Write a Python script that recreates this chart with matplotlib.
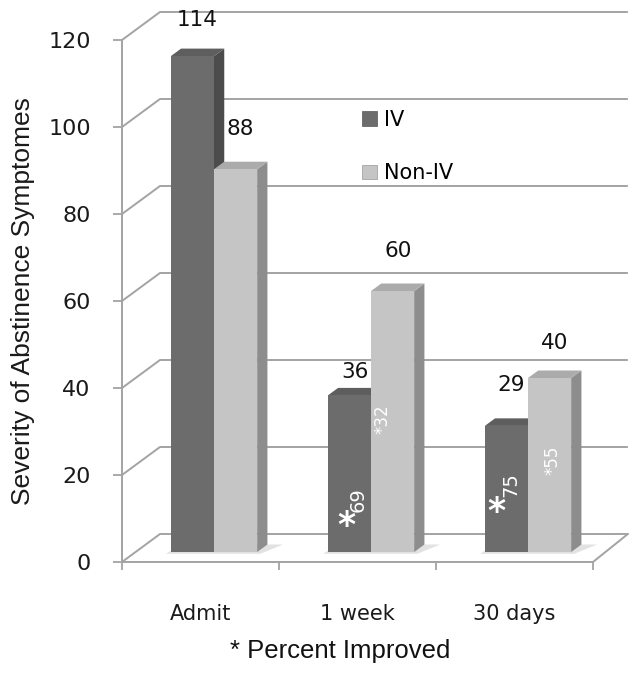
import matplotlib
matplotlib.use('Agg')
import matplotlib.pyplot as plt
from matplotlib.patches import Polygon, Patch
import numpy as np

# ---------------- data ----------------
categories = ['Admit', '1 week', '30 days']
series_names = ['IV', 'Non-IV']
iv_values = [114, 36, 29]
noniv_values = [88, 60, 40]
iv_improved = [None, 69, 75]        # percent improved (IV)
noniv_improved = [None, 32, 55]     # percent improved (Non-IV)
y_ticks = [0, 20, 40, 60, 80, 100, 120]
ylabel = 'Severity of Abstinence Symptomes'
footnote = '* Percent Improved'

# ---------------- styling ----------------
W, H, DPI = 641, 674, 100
GRID = '#a3a3a3'
iv_colors = dict(face='#6c6c6c', side='#4c4c4c', top='#5e5e5e')
non_colors = dict(face='#c5c5c5', side='#8d8d8d', top='#ababab')
label_off_px = [[36, 23, 41], [40, 40, 35]]          # value label offsets above bar tops
iv_star_off = [None, (19, 26), (12, 40)]               # big star offset (px from base-left)
iv_num_off = [None, (30, 52), (26, 67)]
non_txt_off = [None, (11, 133), (24, 92)]

fig = plt.figure(figsize=(W / DPI, H / DPI), dpi=DPI)
fig.patch.set_facecolor('white')
ax = fig.add_axes([122 / W, 112 / H, 471 / W, 522 / H])
ax.set_xlim(-0.5, 2.5)
ax.set_ylim(0, 120)
ax.set_facecolor('none')

ppx = 471 / 3      # px per category
ppy = 522 / 120    # px per value unit
PT = 72 / DPI      # points per px
DX = 38 / ppx
DY = 28 / ppy

# back wall grid + slanted side lines
for v in y_ticks:
    ax.plot([-0.5, -0.5 + DX, 2.5 + DX - 0.02], [v, v + DY, v + DY], color=GRID, lw=1.4,
            clip_on=False, zorder=1, solid_capstyle='butt')
# floor right edge
ax.plot([2.5, 2.5 + DX - 0.02], [0, DY], color=GRID, lw=1.4, clip_on=False, zorder=1)

# bars
w = 0.275
f0, fb = 0.355, 0.27
sx, sy = f0 * DX, f0 * DY
bx, by = fb * DX, fb * DY
x = np.arange(len(categories))

# floor shadows
for c in x:
    xl = c - w + sx
    xr = c + w + sx
    shadow = Polygon([(xl - 0.03, sy - 0.4), (xr + 0.02, sy - 0.4), (xr + bx + 0.10, sy + by),
                      (xl + bx, sy + by)], closed=True, facecolor='#e2e2e2', edgecolor='none',
                     clip_on=False, zorder=1.5)
    ax.add_patch(shadow)

series = [(iv_values, iv_colors), (noniv_values, non_colors)]
for i, (vals, col) in enumerate(series):
    z = 3 + 2 * i
    lefts = x - w + i * w + sx
    ax.bar(lefts, vals, width=w, bottom=sy, align='edge', color=col['face'],
           edgecolor='none', clip_on=False, zorder=z + 1)
    for xl, v in zip(lefts, vals):
        xr = xl + w
        top = v + sy
        side = Polygon([(xr, sy), (xr, top), (xr + bx, top + by), (xr + bx, sy + by)],
                       closed=True, facecolor=col['side'], edgecolor='none', clip_on=False, zorder=z)
        cap = Polygon([(xl, top), (xr, top), (xr + bx, top + by), (xl + bx, top + by)],
                      closed=True, facecolor=col['top'], edgecolor='none', clip_on=False, zorder=z)
        ax.add_patch(side)
        ax.add_patch(cap)
    for j, (xl, v) in enumerate(zip(lefts, vals)):
        ax.annotate(str(v), xy=(xl + w / 2 + bx / 2, v + sy), xytext=(0, label_off_px[i][j] * PT),
                    textcoords='offset points', ha='center', va='center', fontsize=15.5,
                    color='#111111', annotation_clip=False, zorder=10)

# percent improved annotations inside bars
iv_lefts = x - w + sx
non_lefts = x + sx
for j in range(len(categories)):
    if iv_improved[j] is not None:
        ox, oy = iv_star_off[j]
        ax.annotate('*', xy=(iv_lefts[j], sy), xytext=(ox * PT, oy * PT), textcoords='offset points',
                    ha='center', va='center', fontsize=25, fontweight='bold', color='white',
                    annotation_clip=False, zorder=10)
        ox, oy = iv_num_off[j]
        ax.annotate(str(iv_improved[j]), xy=(iv_lefts[j], sy), xytext=(ox * PT, oy * PT),
                    textcoords='offset points', ha='center', va='center', rotation=90,
                    fontsize=14, color='white', annotation_clip=False, zorder=10)
    if noniv_improved[j] is not None:
        ox, oy = non_txt_off[j]
        ax.annotate('*' + str(noniv_improved[j]), xy=(non_lefts[j], sy), xytext=(ox * PT, oy * PT),
                    textcoords='offset points', ha='center', va='center', rotation=90,
                    fontsize=12, color='white', annotation_clip=False, zorder=10)

# axes styling
for s in ['top', 'right']:
    ax.spines[s].set_visible(False)
for s in ['left', 'bottom']:
    ax.spines[s].set_color(GRID)
    ax.spines[s].set_linewidth(1.4)
ax.set_yticks(y_ticks)
ax.tick_params(axis='y', length=6.5, width=1.3, color=GRID, pad=16, labelsize=16, labelcolor='#1a1a1a')
ax.set_xticks(x)
ax.set_xticklabels(categories)
ax.tick_params(axis='x', which='major', length=0, pad=30, labelsize=15, labelcolor='#1a1a1a')
ax.set_xticks([-0.5, 0.5, 1.5, 2.5], minor=True)
ax.tick_params(axis='x', which='minor', length=6, width=1.3, color=GRID)

ax.set_ylabel(ylabel, fontsize=19, family='Liberation Sans', va='center', color='#1a1a1a')
ax.yaxis.set_label_coords((23 - 122) / 471, 0.5)

leg = ax.legend([Patch(facecolor=iv_colors['face'], edgecolor='#555555', lw=0.5),
                 Patch(facecolor=non_colors['face'], edgecolor='#999999', lw=0.5)],
                series_names, loc='upper left', bbox_to_anchor=(362 / W, 1 - 110 / H),
                bbox_transform=fig.transFigure, frameon=False, fontsize=15,
                handlelength=0.7, handleheight=0.7, handletextpad=0.35, labelspacing=1.6,
                borderpad=0, borderaxespad=0)

fig.text(340 / W, 1 - 651 / H, footnote, ha='center', va='center', fontsize=18.5,
         family='Liberation Sans', color='#111111')

fig.savefig('out.png', dpi=DPI, facecolor='white')
